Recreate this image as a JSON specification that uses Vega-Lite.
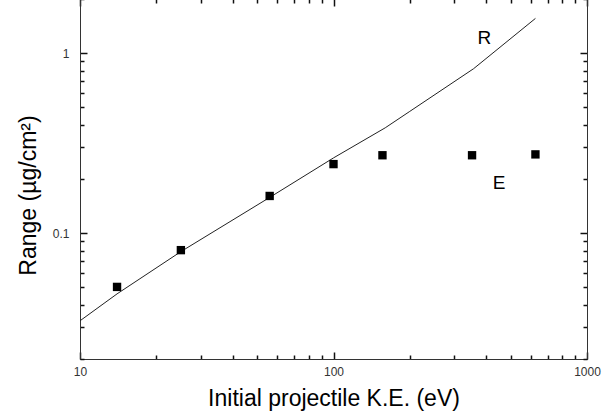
{
  "$schema": "https://vega.github.io/schema/vega-lite/v6.json",
  "width": 507,
  "height": 360,
  "autosize": {"type": "none"},
  "padding": {"left": 80, "top": -1, "right": 27, "bottom": 60},
  "background": "white",
  "config": {
    "view": {"stroke": "#333", "strokeWidth": 1},
    "font": "Liberation Sans",
    "axis": {"grid": false, "ticks": true, "domainColor": "#333", "labelColor": "#333", "labelFontSize": 12, "labelFont": "Liberation Sans", "titleFont": "Liberation Sans", "titleFontWeight": "normal", "titleColor": "#000", "titleFontSize": 23}
  },
  "datasets": {
    "rline": [
      {"energy": 10, "range": 0.0326},
      {"energy": 14, "range": 0.046},
      {"energy": 25, "range": 0.079},
      {"energy": 56, "range": 0.158},
      {"energy": 100, "range": 0.262},
      {"energy": 160, "range": 0.385},
      {"energy": 200, "range": 0.475},
      {"energy": 357, "range": 0.82},
      {"energy": 626, "range": 1.56}
    ],
    "epts": [
      {"energy": 14, "range": 0.0503},
      {"energy": 25, "range": 0.0805},
      {"energy": 56, "range": 0.161},
      {"energy": 100, "range": 0.242},
      {"energy": 156, "range": 0.271},
      {"energy": 352, "range": 0.271},
      {"energy": 626, "range": 0.274}
    ],
    "labels": [
      {"energy": 394, "range": 1.21, "text": "R"},
      {"energy": 450, "range": 0.189, "text": "E"}
    ]
  },
  "layer": [
    {
      "data": {"name": "rline"},
      "mark": {"type": "line", "color": "#222", "strokeWidth": 1},
      "encoding": {
        "x": {
          "field": "energy", "type": "quantitative",
          "scale": {"type": "log", "domain": [10, 1000], "nice": false},
          "axis": {
            "orient": "bottom",
            "values": [10, 20, 30, 40, 50, 60, 70, 80, 90, 100, 200, 300, 400, 500, 600, 700, 800, 900, 1000],
            "labelExpr": "datum.value == 10 ? '10' : datum.value == 100 ? '100' : datum.value == 1000 ? '1000' : ''",
            "tickSize": {"condition": {"test": "datum.value == 10 || datum.value == 100 || datum.value == 1000", "value": -7}, "value": -4},
            "tickColor": "#111",
            "tickWidth": 1.5,
            "labelPadding": 14,
            "labelFlush": false,
            "labelOverlap": false,
            "title": "Initial projectile K.E. (eV)",
            "titlePadding": 7
          }
        },
        "y": {
          "field": "range", "type": "quantitative",
          "scale": {"type": "log", "domain": [0.02, 2], "nice": false},
          "axis": {
            "orient": "left",
            "values": [0.02, 0.03, 0.04, 0.05, 0.06, 0.07, 0.08, 0.09, 0.1, 0.2, 0.3, 0.4, 0.5, 0.6, 0.7, 0.8, 0.9, 1, 2],
            "labelExpr": "datum.value == 0.1 ? '0.1' : datum.value == 1 ? '1' : ''",
            "tickSize": {"condition": {"test": "datum.value == 0.1 || datum.value == 1", "value": -7}, "value": -4},
            "tickColor": "#111",
            "tickWidth": 1.5,
            "labelPadding": 18,
            "labelFlush": false,
            "labelOverlap": false,
            "title": "Range (µg/cm²)",
            "titlePadding": 12,
            "titleY": 196
          }
        }
      }
    },
    {
      "data": {"name": "epts"},
      "mark": {"type": "square", "color": "#000", "filled": true, "size": 70, "opacity": 1},
      "encoding": {
        "x": {
          "field": "energy", "type": "quantitative",
          "axis": {
            "orient": "top",
            "values": [10, 20, 30, 40, 50, 60, 70, 80, 90, 100, 200, 300, 400, 500, 600, 700, 800, 900, 1000],
            "labels": false,
            "tickSize": {"condition": {"test": "datum.value == 10 || datum.value == 100 || datum.value == 1000", "value": -7}, "value": -4},
            "tickColor": "#111",
            "tickWidth": 1.5,
            "title": null
          }
        },
        "y": {
          "field": "range", "type": "quantitative",
          "axis": {
            "orient": "right",
            "values": [0.02, 0.03, 0.04, 0.05, 0.06, 0.07, 0.08, 0.09, 0.1, 0.2, 0.3, 0.4, 0.5, 0.6, 0.7, 0.8, 0.9, 1, 2],
            "labels": false,
            "tickSize": {"condition": {"test": "datum.value == 0.1 || datum.value == 1", "value": -7}, "value": -4},
            "tickColor": "#111",
            "tickWidth": 1.5,
            "title": null
          }
        }
      }
    },
    {
      "data": {"name": "labels"},
      "mark": {"type": "text", "fontSize": 19, "font": "Liberation Sans", "color": "#000"},
      "encoding": {
        "x": {"field": "energy", "type": "quantitative", "axis": null},
        "y": {"field": "range", "type": "quantitative", "axis": null},
        "text": {"field": "text"}
      }
    }
  ],
  "resolve": {"axis": {"x": "independent", "y": "independent"}}
}
